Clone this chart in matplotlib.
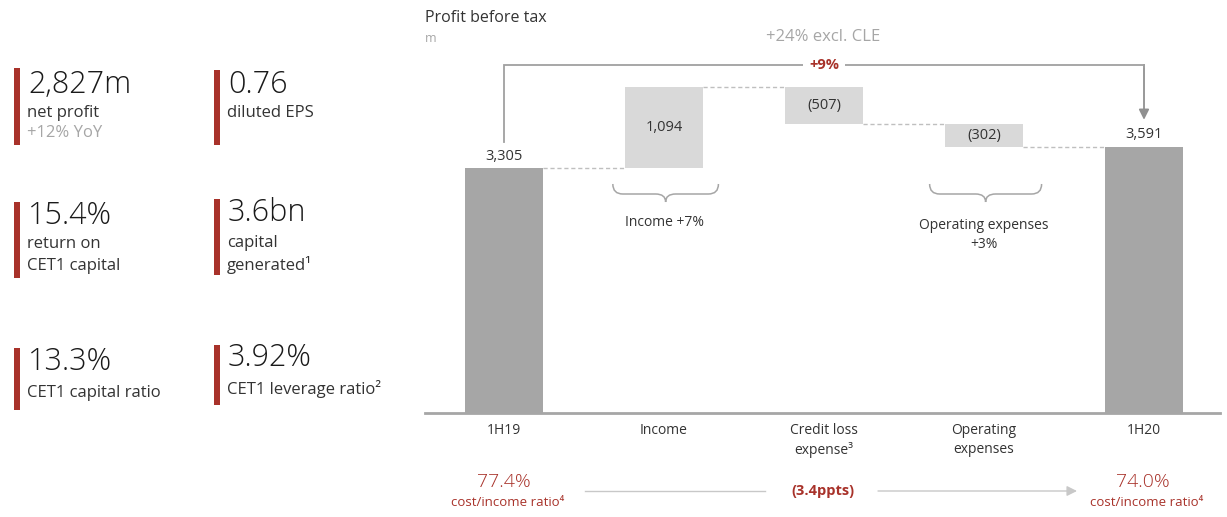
import matplotlib
matplotlib.use("Agg")
import matplotlib.pyplot as plt
from matplotlib.path import Path
from matplotlib.patches import PathPatch, FancyArrowPatch

# ---------------- data ----------------
categories = ["1H19", "Income", "Credit loss\nexpense³", "Operating\nexpenses", "1H20"]
values = [3305, 1094, -507, -302, 3591]
is_total = [True, False, False, False, True]
value_labels = ["3,305", "1,094", "(507)", "(302)", "3,591"]

kpi_values = ["2,827m", "0.76", "15.4%", "3.6bn", "13.3%", "3.92%"]
kpi_labels = ["net profit", "diluted EPS", "return on\nCET1 capital", "capital\ngenerated¹",
              "CET1 capital ratio", "CET1 leverage ratio²"]
kpi_sub = ["+12% YoY", "", "", "", "", ""]

pbt_change = "+9%"
pbt_excl_cle = "+24% excl. CLE"
income_change = "Income +7%"
opex_change = "Operating expenses\n+3%"
ci_start, ci_end, ci_delta = "77.4%", "74.0%", "(3.4ppts)"
ci_label = "cost/income ratio⁴"

# ---------------- style ----------------
FONT = "Open Sans"
plt.rcParams["font.family"] = [FONT, "DejaVu Sans"]
RED = "#A8322A"
DARK = "#A6A6A6"
LIGHT = "#D9D9D9"
TXT = "#333333"
GREY_TXT = "#A6A6A6"
W, H = 1227, 517

fig = plt.figure(figsize=(W / 100, H / 100), dpi=100)


def fx(px):
    return px / W


def fy(py):
    return 1 - py / H


# ---------------- left KPI panel ----------------
col_x = [14, 214]
# (bar top, bar bottom, value centre, first label line centre)
layout = [
    [(68, 145, 85, 113), (70, 145, 85, 113)],
    [(202, 278, 216, 244), (199, 275, 213, 243)],
    [(348, 410, 362, 393), (345, 405, 358, 389)],
]
for i, (val, lab, sub) in enumerate(zip(kpi_values, kpi_labels, kpi_sub)):
    r, c = divmod(i, 2)
    top, bot, cy, ly = layout[r][c]
    x0 = col_x[c]
    fig.patches.append(plt.Rectangle((fx(x0), fy(bot)), fx(6), fy(top) - fy(bot),
                                     transform=fig.transFigure, color=RED, lw=0))
    fig.text(fx(x0 + 14), fy(cy), val, fontsize=22, color="#1a1a1a", va="center", ha="left",
             fontweight="light")
    for k, line in enumerate(lab.split("\n")):
        fig.text(fx(x0 + 13), fy(ly + 21.5 * k), line, fontsize=12, color=TXT, va="center", ha="left")
    if sub:
        fig.text(fx(x0 + 13), fy(ly + 20), sub, fontsize=12, color=GREY_TXT, va="center", ha="left")

# ---------------- waterfall ----------------
base_py = 413
top_py = 10
scale = (base_py - 168) / values[0]  # px per unit
ymax = (base_py - top_py) / scale
ax = fig.add_axes([fx(425), fy(base_py), fx(1220) - fx(425), fy(top_py) - fy(base_py)])
ax.set_xlim(-0.494, 4.475)
ax.set_ylim(0, ymax)
for s in ["top", "right", "left"]:
    ax.spines[s].set_visible(False)
ax.spines["bottom"].set_color("#A6A6A6")
ax.spines["bottom"].set_linewidth(2)
ax.set_yticks([])
ax.set_xticks(range(len(categories)))
ax.set_xticklabels(categories, fontsize=10, color=TXT, linespacing=1.35)
ax.tick_params(axis="x", length=0, pad=7)

bw = 0.49
running = 0
tops = []
for i, (v, tot, lab) in enumerate(zip(values, is_total, value_labels)):
    if tot:
        running = v
        ax.bar(i, v, bottom=0, width=bw, color=DARK, lw=0)
        ax.text(i, v + 12 / scale, lab, ha="center", va="center", fontsize=10.5, color=TXT)
    else:
        new = running + v
        bottom = min(running, new)
        height = abs(v)
        ax.bar(i, height, bottom=bottom, width=bw, color=LIGHT, lw=0)
        ax.text(i, bottom + height / 2, lab, ha="center", va="center", fontsize=10.5, color=TXT)
        running = new
    tops.append(running)

# dashed connectors
for i in range(len(values) - 1):
    level = tops[i]
    ax.plot([i + bw / 2, i + 1 - bw / 2], [level, level], ls=(0, (3, 2)), color="#BFBFBF", lw=1)

# bracket arrow +9%
peak = max(tops)
yb = peak + 22 / scale
ax.plot([0, 0, 4], [values[0] + 26 / scale, yb, yb], color="#A0A0A0", lw=1.3, solid_joinstyle="miter")
ax.add_patch(FancyArrowPatch((4, yb), (4, values[-1] + 27 / scale), arrowstyle="-|>,head_length=6,head_width=3",
                             color="#909090", lw=1.3, shrinkA=0, shrinkB=0, mutation_scale=1))
ax.plot([4, 4], [yb, yb - 2 / scale], color="#A0A0A0", lw=1.3)
ax.text(2, yb, pbt_change, ha="center", va="center", fontsize=10.5, color=RED, fontweight="bold",
        bbox=dict(facecolor="white", edgecolor="none", pad=4))


# braces
def brace(x0, x1, y_top_px, y_mid_px, y_tip_px):
    xa = ax.transData.transform((x0, 0))[0]
    xb = ax.transData.transform((x1, 0))[0]
    xc = (xa + xb) / 2
    h = fig.bbox.height
    yt, ym, yp = h - y_top_px, h - y_mid_px, h - y_tip_px
    r = 10
    codes = [Path.MOVETO, Path.CURVE3, Path.CURVE3, Path.LINETO, Path.CURVE3, Path.CURVE3,
             Path.MOVETO, Path.CURVE3, Path.CURVE3, Path.LINETO, Path.CURVE3, Path.CURVE3]
    verts = [(xa, yt), (xa, ym), (xa + r, ym), (xc - r, ym), (xc, ym), (xc, yp),
             (xc, yp), (xc, ym), (xc + r, ym), (xb - r, ym), (xb, ym), (xb, yt)]
    p = PathPatch(Path(verts, codes), fc="none", ec="#A6A6A6", lw=1.1, transform=None)
    fig.patches.append(p)


fig.canvas.draw()
brace(1 - 0.32, 1 + 0.34, 184, 194, 202)
brace(3 - 0.34, 3 + 0.36, 184, 194, 202)

fig.text(fx(664), fy(222), income_change, ha="center", va="center", fontsize=10, color=TXT)
fig.text(fx(984), fy(235), opex_change, ha="center", va="center", fontsize=10, color=TXT, linespacing=1.35)

# titles
fig.text(fx(425), fy(18), "Profit before tax", ha="left", va="center", fontsize=11.5, color=TXT)
fig.text(fx(425), fy(39), "m", ha="left", va="center", fontsize=9, color=GREY_TXT)
fig.text(fx(823), fy(37), pbt_excl_cle, ha="center", va="center", fontsize=12, color=GREY_TXT)

# cost/income row
fig.text(fx(504), fy(482), ci_start, ha="center", va="center", fontsize=14, color=RED, fontweight="light")
fig.text(fx(508), fy(502), ci_label, ha="center", va="center", fontsize=9.5, color=RED)
fig.text(fx(1143), fy(482), ci_end, ha="center", va="center", fontsize=14, color=RED, fontweight="light")
fig.text(fx(1147), fy(502), ci_label, ha="center", va="center", fontsize=9.5, color=RED)
fig.text(fx(823), fy(491), ci_delta, ha="center", va="center", fontsize=10.5, color=RED, fontweight="bold")
fig.lines.append(plt.Line2D([fx(585), fx(765)], [fy(491), fy(491)], transform=fig.transFigure,
                            color="#C8C8C8", lw=1))
fig.patches.append(FancyArrowPatch((fx(878), fy(491)), (fx(1077), fy(491)), transform=fig.transFigure,
                                   arrowstyle="-|>,head_length=6,head_width=3", mutation_scale=1,
                                   color="#C8C8C8", lw=1, shrinkA=0, shrinkB=0))

fig.savefig("out.png", dpi=100)
